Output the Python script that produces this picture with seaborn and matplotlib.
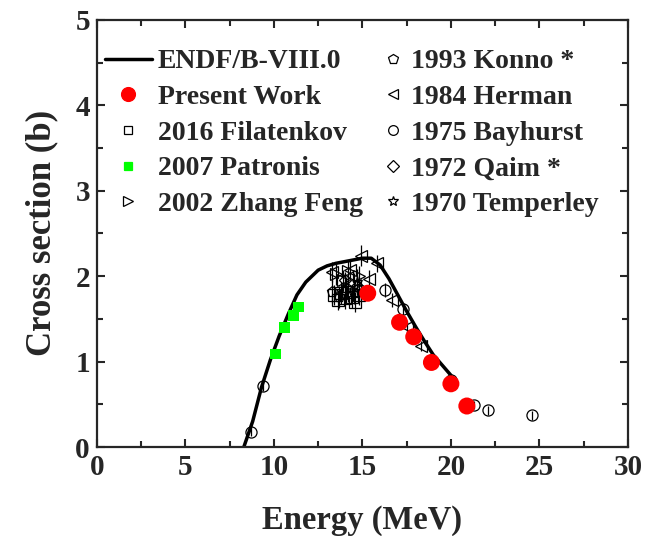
import numpy as np
import pandas as pd
import seaborn as sns
import matplotlib
matplotlib.use('Agg')
import matplotlib.pyplot as plt
from matplotlib.lines import Line2D
from matplotlib.ticker import MultipleLocator

# ENDF/B-VIII.0 evaluation
endf_E = [8.3, 8.8, 9.3, 9.8, 10.3, 10.8, 11.3, 11.8, 12.5, 13.0, 13.5, 14.0,
          14.5, 15.0, 15.5, 16.0, 16.5, 17.0, 17.5, 18.0, 18.5, 19.0, 19.5, 20.0]
endf_xs = [0.0, 0.30, 0.70, 1.02, 1.30, 1.55, 1.78, 1.93, 2.07, 2.12, 2.15, 2.17,
           2.19, 2.21, 2.21, 2.13, 1.97, 1.78, 1.59, 1.41, 1.24, 1.08, 0.96, 0.84]

# measurements
present_E = [15.3, 17.1, 17.9, 18.9, 20.0, 20.9]
present_xs = [1.80, 1.46, 1.29, 0.99, 0.74, 0.48]
present_err = [0.05, 0.05, 0.04, 0.04, 0.04, 0.03]

filatenkov_E = [13.4, 13.6, 13.8, 14.0, 14.2, 14.4, 14.6, 14.8]
filatenkov_xs = [1.78, 1.72, 1.80, 1.74, 1.82, 1.76, 1.70, 1.78]
filatenkov_err = [0.12, 0.12, 0.13, 0.12, 0.12, 0.13, 0.12, 0.12]

patronis_E = [10.1, 10.6, 11.1, 11.4]
patronis_xs = [1.09, 1.40, 1.54, 1.64]

zhang_E = [13.5, 13.9, 14.2, 14.5, 14.8]
zhang_xs = [2.02, 1.95, 2.06, 1.92, 2.00]
zhang_err = [0.12, 0.12, 0.12, 0.12, 0.12]

konno_E = [13.3, 13.7, 14.1, 14.5, 14.9]
konno_xs = [1.82, 1.76, 1.86, 1.80, 1.84]
konno_err = [0.13, 0.13, 0.13, 0.13, 0.13]

herman_E = [13.3, 14.3, 14.9, 15.4, 15.8, 16.7, 17.5, 18.3]
herman_xs = [2.05, 2.07, 2.24, 1.97, 2.15, 1.72, 1.40, 1.18]
herman_err = [0.12, 0.12, 0.12, 0.10, 0.10, 0.08, 0.07, 0.06]

bayhurst_E = [8.7, 9.4, 16.3, 17.3, 20.0, 21.3, 22.1, 24.6]
bayhurst_xs = [0.18, 0.72, 1.84, 1.62, 0.79, 0.49, 0.43, 0.37]
bayhurst_err = [0.05, 0.06, 0.08, 0.07, 0.06, 0.05, 0.05, 0.05]

qaim_E = [14.0, 14.7]
qaim_xs = [1.95, 1.88]
qaim_err = [0.10, 0.10]

temperley_E = [14.7]
temperley_xs = [1.93]
temperley_err = [0.15]

sns.set_style('ticks')
plt.rcParams['font.family'] = ['Liberation Serif', 'DejaVu Serif']
plt.rcParams['font.weight'] = 'bold'
plt.rcParams['axes.labelweight'] = 'bold'

fig = plt.figure(figsize=(6.46, 5.36), dpi=100)
ax = fig.add_axes([0.150, 0.166, 0.822, 0.797])

sns.lineplot(x=endf_E, y=endf_xs, color='black', linewidth=2.5, ax=ax, legend=False)

open_sets = [
    (filatenkov_E, filatenkov_xs, filatenkov_err, 's'),
    (zhang_E, zhang_xs, zhang_err, '>'),
    (konno_E, konno_xs, konno_err, 'p'),
    (herman_E, herman_xs, herman_err, '<'),
    (bayhurst_E, bayhurst_xs, bayhurst_err, 'o'),
    (qaim_E, qaim_xs, qaim_err, 'D'),
    (temperley_E, temperley_xs, temperley_err, '*'),
]
for E, xs, err, m in open_sets:
    ax.errorbar(E, xs, yerr=err, fmt='none', ecolor='black', elinewidth=0.9, capsize=0)
    ms = 6 if m == 'D' else 8
    ax.plot(E, xs, linestyle='none', marker=m, markersize=ms, markerfacecolor='none',
            markeredgecolor='black', markeredgewidth=0.9)

sns.scatterplot(x=patronis_E, y=patronis_xs, marker='s', color='#00ff00', s=60,
                edgecolor='none', ax=ax, zorder=5)
ax.errorbar(present_E, present_xs, yerr=present_err, fmt='none', ecolor='red', elinewidth=1)
sns.scatterplot(x=present_E, y=present_xs, marker='o', color='red', s=150,
                edgecolor='none', ax=ax, zorder=6)

ax.set_xlim(0, 30)
ax.set_ylim(0, 5)
ax.xaxis.set_major_locator(MultipleLocator(5))
ax.xaxis.set_minor_locator(MultipleLocator(2.5))
ax.yaxis.set_major_locator(MultipleLocator(1))
ax.yaxis.set_minor_locator(MultipleLocator(0.5))
ax.tick_params(which='both', direction='in', top=True, right=True, width=1.5)
ax.tick_params(which='major', length=6, labelsize=21, pad=5)
ax.tick_params(which='minor', length=4)
for lab in ax.get_xticklabels() + ax.get_yticklabels():
    lab.set_fontweight('bold')
for sp in ax.spines.values():
    sp.set_linewidth(1.6)
    sp.set_visible(True)

ax.set_xlabel('Energy (MeV)', fontsize=23.5, fontweight='bold', labelpad=17)
ax.set_ylabel('Cross section (b)', fontsize=25, fontweight='bold', labelpad=12)

def mk(m, fc='none', ec='black', ms=7):
    return Line2D([], [], linestyle='none', marker=m, markersize=ms, markerfacecolor=fc,
                  markeredgecolor=ec, markeredgewidth=0.9)

h1 = [Line2D([], [], color='black', linewidth=2.5),
      mk('o', 'red', 'red', 10),
      mk('s', ms=6),
      mk('s', '#00ff00', '#00ff00', 6),
      mk('>', ms=7)]
l1 = ['ENDF/B-VIII.0', 'Present Work', '2016 Filatenkov', '2007 Patronis', '2002 Zhang Feng']
h2 = [mk('p'), mk('<'), mk('o'), mk('D', ms=6), mk('*')]
l2 = ['1993 Konno *', '1984 Herman', '1975 Bayhurst', '1972 Qaim *', '1970 Temperley']

prop = {'size': 20, 'weight': 'bold'}
leg1 = ax.legend(h1, l1, loc='upper left', bbox_to_anchor=(-0.006, 0.958), frameon=False,
                 prop=prop, handlelength=1.7, handletextpad=0.2,
                 labelspacing=0.37, borderaxespad=0)
ax.add_artist(leg1)
ax.legend(h2, l2, loc='upper left', bbox_to_anchor=(0.518, 0.958), frameon=False,
          prop=prop, handlelength=0.7, handletextpad=0.3,
          labelspacing=0.37, borderaxespad=0)

plt.savefig('out.png', dpi=100)
